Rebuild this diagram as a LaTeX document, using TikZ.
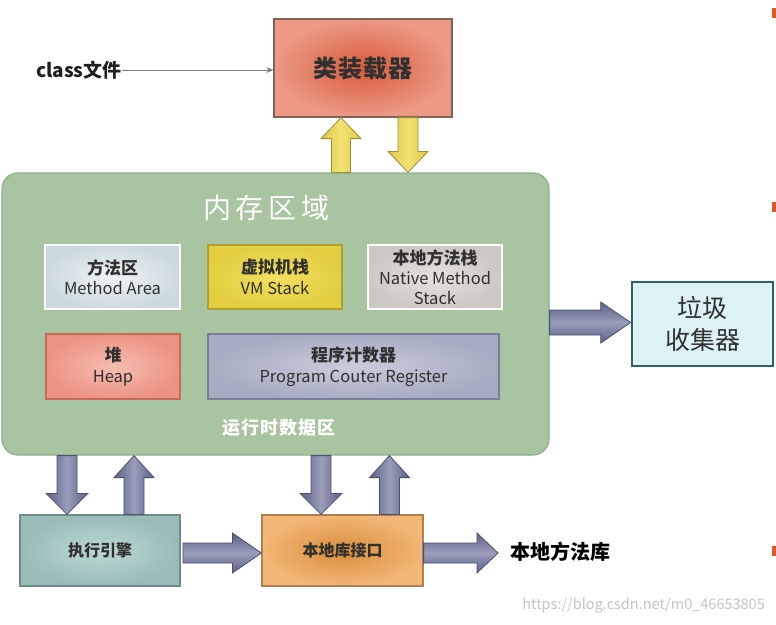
\documentclass[tikz,border=0pt]{standalone}
\usepackage{fontspec}
\setmainfont{Noto Sans CJK SC}
\usetikzlibrary{calc,arrows.meta}
\definecolor{memfill}{HTML}{A8C4A0}
\definecolor{memline}{HTML}{8FAE8C}
\definecolor{ldin}{HTML}{D85A3A}
\definecolor{ldout}{HTML}{EC9A86}
\definecolor{ldline}{HTML}{7E6458}
\definecolor{pdark}{HTML}{5C6082}
\definecolor{plight}{HTML}{9A9EBC}
\definecolor{pline}{HTML}{4C5070}
\definecolor{ydark}{HTML}{DCC846}
\definecolor{ylight}{HTML}{F2E274}
\definecolor{yline}{HTML}{9E9034}
\definecolor{txt}{HTML}{303030}
\definecolor{mtin}{HTML}{EEF3F4}
\definecolor{mtout}{HTML}{CCDADF}
\definecolor{vmline}{HTML}{B0A030}
\definecolor{vmin}{HTML}{F2E060}
\definecolor{vmout}{HTML}{E2CE40}
\definecolor{nvin}{HTML}{E6E2DE}
\definecolor{nvout}{HTML}{CEC8C4}
\definecolor{hpline}{HTML}{C86A5A}
\definecolor{hpin}{HTML}{F6BEB0}
\definecolor{hpout}{HTML}{EC9484}
\definecolor{pcline}{HTML}{7A7E98}
\definecolor{pcin}{HTML}{C8CCDA}
\definecolor{pcout}{HTML}{A8ACC2}
\definecolor{clstxt}{HTML}{202020}
\definecolor{clsline}{HTML}{708484}
\definecolor{gcline}{HTML}{2E6262}
\definecolor{gcfill}{HTML}{DCF2F6}
\definecolor{exline}{HTML}{708C88}
\definecolor{exin}{HTML}{BCD8D4}
\definecolor{exout}{HTML}{98BCB8}
\definecolor{nlline}{HTML}{B08050}
\definecolor{nlin}{HTML}{D88E3C}
\definecolor{nlout}{HTML}{F2B676}
\definecolor{wmtxt}{HTML}{C4C4C4}
\definecolor{edgemark}{HTML}{E05A28}
\newcommand\vblock[6][]{%
  \path[#1] let \p1=(#2), \p2=(#3), \n1={2*(\y2>\y1)-1} in
    ({\x1-#4},\y1) -- ({\x1-#4},{\y2-\n1*#6}) -- ({\x1-#5},{\y2-\n1*#6}) -- (\x1,\y2)
    -- ({\x1+#5},{\y2-\n1*#6}) -- ({\x1+#4},{\y2-\n1*#6}) -- ({\x1+#4},\y1) -- cycle;}
\newcommand\hblock[6][]{%
  \path[#1] let \p1=(#2), \p2=(#3), \n1={2*(\x2>\x1)-1} in
    (\x1,{\y1-#4}) -- ({\x2-\n1*#6},{\y1-#4}) -- ({\x2-\n1*#6},{\y1-#5}) -- (\x2,\y1)
    -- ({\x2-\n1*#6},{\y1+#5}) -- ({\x2-\n1*#6},{\y1+#4}) -- (\x1,{\y1+#4}) -- cycle;}
\newcommand\zh[1]{{\bfseries\fontsize{17}{20.5}\selectfont #1}}
\begin{document}
\begin{tikzpicture}[x=1pt,y=-1pt,
  box/.style={draw, line width=1.2pt, align=center, inner sep=0pt, text=txt},
  inbox/.style={box, font=\fontsize{16.5}{20.5}\selectfont},
  pv/.style={draw=pline, line width=0.8pt, left color=pdark, right color=pdark, middle color=plight},
  ph/.style={draw=pline, line width=0.8pt, top color=pdark, bottom color=pdark, middle color=plight},
  yv/.style={draw=yline, line width=0.8pt, left color=ydark, right color=ydark, middle color=ylight},
]
\useasboundingbox (0,0) rectangle (776,624);
\fill[white] (0,0) rectangle (776,624);

% memory area
\node[draw=memline, fill=memfill, line width=1.2pt, rounded corners=16pt,
      minimum width=547pt, minimum height=282pt] (mem) at (275.5,314) {};
\node[text=white, font=\fontsize{28}{30}\selectfont] (memtitle) at (266,208) {内\,存\,区\,域};
\node[text=white, font=\bfseries\fontsize{18}{20}\selectfont] (rtd) at (279,428) {运\kern1pt 行\kern1pt 时\kern1pt 数\kern1pt 据\kern1pt 区};

\node[inbox, draw=white, inner color=mtin, outer color=mtout,
      minimum width=135pt, minimum height=64pt] (method) at (112.5,277)
      {\zh{方法区}\\Method Area};
\node[inbox, draw=vmline, inner color=vmin, outer color=vmout,
      minimum width=134pt, minimum height=64pt] (vm) at (275,277)
      {\zh{虚拟机栈}\\VM Stack};
\node[inbox, draw=white, inner color=nvin, outer color=nvout,
      minimum width=134pt, minimum height=64pt, font=\fontsize{16.5}{20}\selectfont] (native) at (435,277)
      {\zh{本地方法栈}\\Native Method\\Stack};
\node[inbox, draw=hpline, inner color=hpin, outer color=hpout,
      minimum width=134pt, minimum height=65pt] (heap) at (113,366.5)
      {\zh{堆}\\Heap};
\node[inbox, draw=pcline, inner color=pcin, outer color=pcout,
      minimum width=291pt, minimum height=65pt] (pc) at (353.5,366.5)
      {\zh{程序计数器}\\Program Couter Register};

% class loader
\node[box, draw=ldline, inner color=ldin, outer color=ldout,
      minimum width=178pt, minimum height=98pt,
      font=\bfseries\fontsize{24}{26}\selectfont] (loader) at (363,68) {类\kern1pt 装\kern1pt 载\kern1pt 器};
\node[font=\bfseries\fontsize{19}{21}\selectfont, text=clstxt, inner sep=0pt, anchor=west] (cls) at (36,70) {class文件};
\draw[clsline, line width=0.9pt, -{Stealth[length=7pt,width=6pt]}] (cls.east) -- (loader.west |- cls.east);

% garbage collector
\node[box, draw=gcline, line width=2.6pt, fill=gcfill,
      minimum width=141pt, minimum height=84pt,
      font=\fontsize{25}{32}\selectfont] (gc) at (702.5,324) {垃圾\\收集器};

% execution engine & native interface
\node[box, draw=exline, inner color=exin, outer color=exout,
      minimum width=160pt, minimum height=71pt, font=\bfseries\fontsize{16}{18}\selectfont]
      (exec) at (100,550.5) {执行引擎};
\node[box, draw=nlline, inner color=nlin, outer color=nlout,
      minimum width=161pt, minimum height=71pt, font=\bfseries\fontsize{16}{18}\selectfont]
      (nlib) at (342.5,550.5) {本地库接口};
\node[font=\bfseries\fontsize{20}{22}\selectfont, text=black, inner sep=0pt, anchor=west] (lib) at (510,552) {本地方法库};

% yellow arrows between loader and memory
\vblock[yv]{341,0 |- mem.north}{341,0 |- loader.south}{9.5pt}{20pt}{21pt}
\vblock[yv]{408,0 |- loader.south}{408,0 |- mem.north}{10pt}{20pt}{21pt}

% to garbage collector
\hblock[ph]{mem.east |- 0,322.5}{gc.west |- 0,322.5}{12.5pt}{20.5pt}{30pt}

% memory <-> execution engine / native interface
\vblock[pv]{67,0 |- mem.south}{67,0 |- exec.north}{10pt}{21pt}{21pt}
\vblock[pv]{134,0 |- exec.north}{134,0 |- mem.south}{10pt}{20pt}{22pt}
\vblock[pv]{321,0 |- mem.south}{321,0 |- nlib.north}{10pt}{21pt}{21pt}
\vblock[pv]{389.5,0 |- nlib.north}{389.5,0 |- mem.south}{10pt}{20pt}{22pt}

% horizontal bottom arrows
\hblock[ph]{183,553}{nlib.west |- 0,553}{10pt}{20pt}{29pt}
\hblock[ph]{nlib.east |- 0,553}{[xshift=-12pt]lib.west}{10pt}{20pt}{21pt}

% watermark
\node[text=wmtxt, font=\fontsize{14.5}{16}\selectfont, anchor=east, inner sep=0pt] (wm) at (765,606) {https://blog.csdn.net/m0\_46653805};

% edge marks
\fill[edgemark] (772,8) rectangle (776,18);
\fill[edgemark] (772,202) rectangle (776,212);
\fill[edgemark] (772,546) rectangle (776,556);
\end{tikzpicture}
\end{document}
